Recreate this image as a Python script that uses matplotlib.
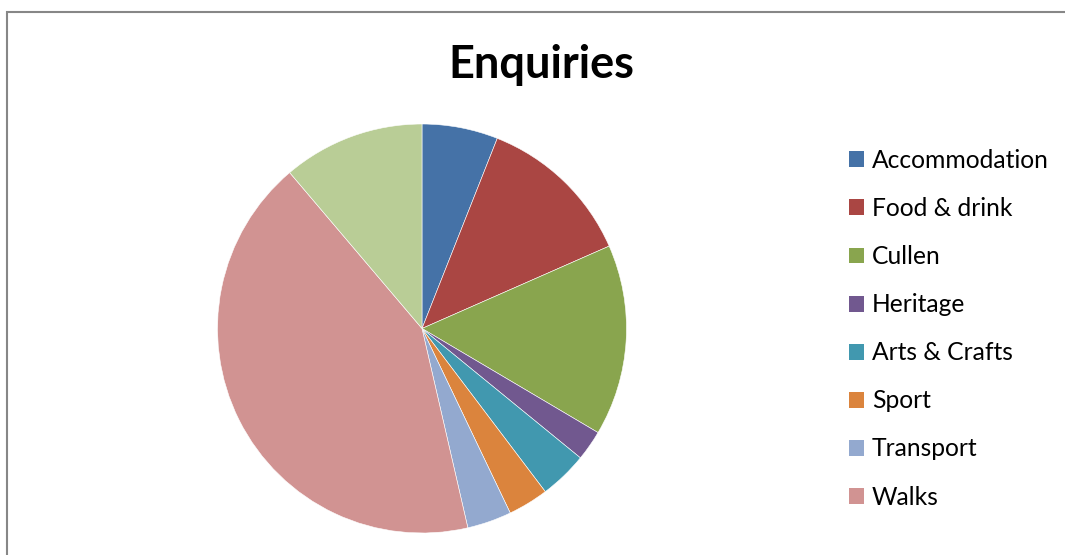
import matplotlib.pyplot as plt
from matplotlib.patches import Rectangle, Patch

# data (shares in %)
labels = ["Accommodation", "Food & drink", "Cullen", "Heritage", "Arts & Crafts",
          "Sport", "Transport", "Walks", "Other"]
values = [6.0, 12.4, 15.1, 2.4, 3.8, 3.2, 3.5, 42.4, 11.2]
colours = ["#4572A7", "#AA4643", "#89A54E", "#71588F", "#4198AF",
           "#DB843D", "#93A9CF", "#D19392", "#B9CD96"]
legend_count = 8  # legend in the original only shows the first eight

plt.rcParams['font.family'] = ['Lato', 'DejaVu Sans']

W, H = 1065, 555
fig = plt.figure(figsize=(W / 100, H / 100), dpi=100)

# chart area border (cropped on the right and bottom)
fig.patches.append(Rectangle((7 / W, -0.1), 1.2, 1 - 12 / H + 0.1,
                             transform=fig.transFigure, fill=False,
                             edgecolor="#878787", linewidth=1.5))

cx, cy, r = 422, 555 - 328.5, 204.5
ax = fig.add_axes([(cx - r) / W, (cy - r) / H, 2 * r / W, 2 * r / H])
ax.pie(values, colors=colours, startangle=90, counterclock=False,
       radius=1, wedgeprops=dict(edgecolor="white", linewidth=0.4))
ax.set_xlim(-1, 1)
ax.set_ylim(-1, 1)
ax.set_aspect("equal")
ax.axis("off")

fig.text(541 / W, 1 - 65 / H, "Enquiries", ha="center", va="center",
         fontsize=32.5, fontweight="bold")

handles = [Patch(facecolor=c, edgecolor="none") for c in colours[:legend_count]]
fig.legend(handles, labels[:legend_count], loc="upper left",
           bbox_to_anchor=(849 / W, 1 - 149 / H), frameon=False,
           fontsize=17.7, handlelength=0.62, handleheight=0.62,
           handletextpad=0.32, labelspacing=1.02, borderpad=0, borderaxespad=0)

fig.savefig("out.png", dpi=100)
